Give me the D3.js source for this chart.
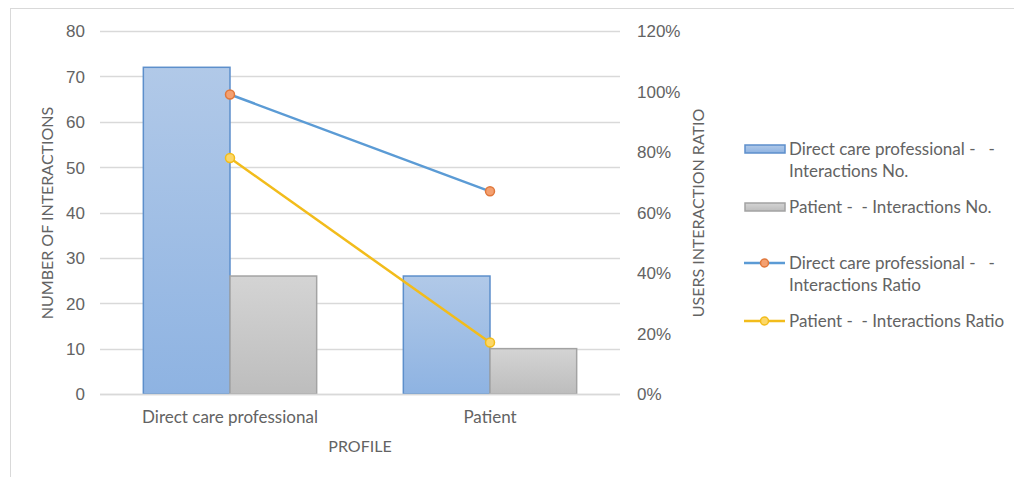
<!DOCTYPE html>
<html>
<head>
<meta charset="utf-8">
<script src="https://cdn.jsdelivr.net/npm/d3@7"></script>
<style>
  html, body { margin: 0; padding: 0; background: #fff; }
  svg { display: block; font-family: Lato, "Open Sans", sans-serif; }
  svg text { white-space: pre; }
</style>
</head>
<body>
<svg id="chart" width="1014" height="477"></svg>
<script>
// Profiles on the x axis
const categories = ["Direct care professional", "Patient"];
// Interaction counts (left axis)
const dcpCounts = [72, 26];
const patientCounts = [26, 10];
// Interaction ratios in % (right axis)
const dcpRatio = [99, 67];
const patientRatio = [78, 17];
// Axis ticks
const leftTicks = [0, 10, 20, 30, 40, 50, 60, 70, 80];
const rightTicks = [0, 20, 40, 60, 80, 100, 120];

const svg = d3.select("#chart");
const textColor = "#636363";
const gridColor = "#d9d9d9";

// outer chart frame
svg.append("rect").attr("x", 10.5).attr("y", 8.5).attr("width", 1020).attr("height", 480)
  .attr("fill", "none").attr("stroke", "#d9d9d9");

const plot = { left: 100, right: 620, top: 31, bottom: 394 };

const x = d3.scaleBand().domain(categories).range([plot.left, plot.right]);
const yL = d3.scaleLinear().domain([0, 80]).range([plot.bottom, plot.top]);
const yR = d3.scaleLinear().domain([0, 120]).range([plot.bottom, plot.top]);

// gradients for bars
const defs = svg.append("defs");
function grad(id, top, bottom) {
  const g = defs.append("linearGradient").attr("id", id).attr("x1", 0).attr("y1", 0).attr("x2", 0).attr("y2", 1);
  g.append("stop").attr("offset", "0%").attr("stop-color", top);
  g.append("stop").attr("offset", "100%").attr("stop-color", bottom);
}
grad("gBlue", "#b1c9e8", "#8eb3e2");
grad("gGray", "#d4d4d4", "#bdbdbd");

// gridlines
svg.append("g").selectAll("line").data(leftTicks).join("line")
  .attr("x1", plot.left).attr("x2", plot.right)
  .attr("y1", d => Math.round(yL(d)) + 0.5).attr("y2", d => Math.round(yL(d)) + 0.5)
  .attr("stroke", gridColor).attr("stroke-width", 1.3);

// left axis labels
const leftAxis = d3.axisLeft(yL).tickValues(leftTicks).tickSize(0).tickPadding(0);
svg.append("g").attr("transform", `translate(${plot.left - 15},0)`).call(leftAxis)
  .call(g => g.select(".domain").remove())
  .selectAll("text").attr("fill", textColor).style("font-size", "17px").attr("dy", "0.35em");

// right axis labels
const rightAxis = d3.axisRight(yR).tickValues(rightTicks).tickSize(0).tickPadding(0).tickFormat(d => d + "%");
svg.append("g").attr("transform", `translate(${plot.right + 17},0)`).call(rightAxis)
  .call(g => g.select(".domain").remove())
  .selectAll("text").attr("fill", textColor).style("font-size", "17px").attr("dy", "0.35em");

// bars
const barW = x.bandwidth() / 3;
const barsG = svg.append("g");
barsG.selectAll("rect.dcp").data(categories).join("rect").attr("class", "dcp")
  .attr("x", d => x(d) + x.bandwidth() / 2 - barW)
  .attr("y", (d, i) => yL(dcpCounts[i]))
  .attr("width", barW)
  .attr("height", (d, i) => yL(0) - yL(dcpCounts[i]))
  .attr("fill", "url(#gBlue)").attr("stroke", "#5d8fcb").attr("stroke-width", 1.5);
barsG.selectAll("rect.pat").data(categories).join("rect").attr("class", "pat")
  .attr("x", d => x(d) + x.bandwidth() / 2)
  .attr("y", (d, i) => yL(patientCounts[i]))
  .attr("width", barW)
  .attr("height", (d, i) => yL(0) - yL(patientCounts[i]))
  .attr("fill", "url(#gGray)").attr("stroke", "#a3a3a3").attr("stroke-width", 1.5);

// baseline
svg.append("line").attr("x1", plot.left).attr("x2", plot.right)
  .attr("y1", plot.bottom + 0.5).attr("y2", plot.bottom + 0.5)
  .attr("stroke", gridColor).attr("stroke-width", 1.3);

// ratio lines
const cx = d => x(d) + x.bandwidth() / 2;
function ratioLine(vals, color, markerFill, markerStroke) {
  const pts = categories.map((c, i) => [cx(c), yR(vals[i])]);
  svg.append("path").attr("d", d3.line()(pts)).attr("fill", "none")
    .attr("stroke", color).attr("stroke-width", 2.5);
  svg.append("g").selectAll("circle").data(pts).join("circle")
    .attr("cx", d => d[0]).attr("cy", d => d[1]).attr("r", 4.5)
    .attr("fill", markerFill).attr("stroke", markerStroke).attr("stroke-width", 1.5);
}
ratioLine(dcpRatio, "#5b9bd5", "#f4a070", "#e0783c");
ratioLine(patientRatio, "#f2bc1b", "#fcd768", "#f2bc1b");

// category labels
svg.append("g").selectAll("text").data(categories).join("text")
  .attr("x", d => cx(d)).attr("y", 423).attr("text-anchor", "middle")
  .attr("fill", textColor).style("font-size", "17px").text(d => d);

// axis titles
svg.append("text").attr("x", 360).attr("y", 452).attr("text-anchor", "middle")
  .attr("fill", textColor).style("font-size", "16px").text("PROFILE");
svg.append("text").attr("transform", "translate(53,213) rotate(-90)").attr("text-anchor", "middle")
  .attr("fill", textColor).style("font-size", "16px").text("NUMBER OF INTERACTIONS");
svg.append("text").attr("transform", "translate(704,213) rotate(-90)").attr("text-anchor", "middle")
  .attr("fill", textColor).style("font-size", "16px").text("USERS INTERACTION RATIO");

// legend
const legendItems = [
  { type: "bar", fill: "url(#gBlue)", stroke: "#5d8fcb", y: 149, lines: ["Direct care professional -   -", "Interactions No."] },
  { type: "bar", fill: "url(#gGray)", stroke: "#a3a3a3", y: 207, lines: ["Patient -  - Interactions No."] },
  { type: "line", color: "#5b9bd5", mf: "#f4a070", ms: "#e0783c", y: 263, lines: ["Direct care professional -   -", "Interactions Ratio"] },
  { type: "line", color: "#f2bc1b", mf: "#fcd768", ms: "#f2bc1b", y: 321, lines: ["Patient -  - Interactions Ratio"] }
];
const lg = svg.append("g");
legendItems.forEach(it => {
  const g = lg.append("g");
  if (it.type === "bar") {
    g.append("rect").attr("x", 745).attr("y", it.y - 4).attr("width", 40).attr("height", 8)
      .attr("fill", it.fill).attr("stroke", it.stroke).attr("stroke-width", 1.5);
  } else {
    g.append("line").attr("x1", 744).attr("x2", 785).attr("y1", it.y).attr("y2", it.y)
      .attr("stroke", it.color).attr("stroke-width", 2.5);
    g.append("circle").attr("cx", 764.5).attr("cy", it.y).attr("r", 4)
      .attr("fill", it.mf).attr("stroke", it.ms).attr("stroke-width", 1.5);
  }
  it.lines.forEach((t, k) => {
    g.append("text").attr("x", 789).attr("y", it.y + 6 + k * 22)
      .attr("fill", textColor).style("font-size", "17px").text(t);
  });
});
</script>
</body>
</html>
